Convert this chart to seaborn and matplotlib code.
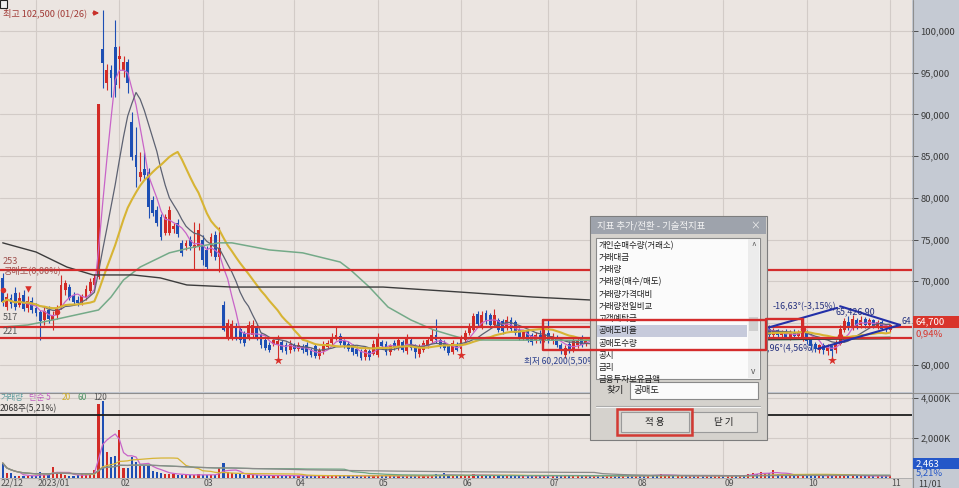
import numpy as np
import pandas as pd
import seaborn as sns
import matplotlib.pyplot as plt
from matplotlib.patches import Rectangle
from matplotlib.transforms import blended_transform_factory

# daily candles 2022/12 (partial) ~ 2023/11/01, won
opens = [
    70400, 66900, 68000, 68600, 67200, 68300, 66800, 67600,
    66800, 66300, 65300, 66500, 65400, 65900, 66900, 68900, 69300, 68200, 67800, 67500, 68000, 68800, 69600, 70500, 97900, 93800, 95300, 98100,
    96700, 95200, 96300, 89100, 85100, 82500, 83500, 83100, 79700, 78500, 77700, 75800, 75800, 76200, 77000, 74600, 74200, 75000, 74000, 74100,
    74900, 73700, 73400, 75500, 72900, 67100, 63300, 63200, 64600, 64300, 63800, 63300, 63500, 64600, 63500, 62900, 62400, 62500, 62300, 62700, 62400, 61700,
    62300, 61900, 62200, 62400, 61800, 62200, 61000, 61600, 62100, 62600, 63200, 63400, 62800, 62500, 62200, 61900, 61600, 60900, 61600, 61300,
    61200, 62700, 62500, 61500, 62600, 62100, 62700, 61600, 62900, 62200, 61300, 61800, 62300, 62800, 63500, 63000, 62600, 62300, 61500, 62400,
    61900, 63000, 63800, 64200, 66100, 64600, 66200, 65900, 64800, 65300, 65200, 64400, 65400, 65100, 64100, 63200, 64000, 63500, 62900, 63500, 62900,
    63800, 62800, 63200, 62300, 61100, 62500, 61800, 62300, 63100, 62500, 63000, 62700, 63300, 62600, 62100, 62800, 63500, 63100, 62500, 62900, 62300,
    61800, 62400, 61900, 61300, 61700, 61100, 60600, 61200, 61800, 62300, 62000, 62700, 63300, 62900, 63500, 63100, 63700, 63200, 63600, 63100, 63500,
    63900, 63400, 63800, 64200, 63700, 64100, 63600, 64000, 64400, 63900, 64300, 64300, 63600, 64100, 63600, 64000, 63300, 63900, 63400, 63300,
    63900, 62900, 62500, 61700, 62300, 61600, 62200, 61700, 62500, 64100, 65100, 64400, 65300, 64700, 65500, 64800, 65300, 64600, 65100, 64300, 64100,
]
closes = [
    67500, 68100, 67300, 66900, 68000, 66700, 67600, 66600,
    66200, 65200, 66400, 65500, 66000, 66800, 69600, 69800, 68000, 67500, 67400, 68200, 69100, 69900, 70400, 91200, 96200, 95300, 94400, 93500,
    97000, 96300, 93800, 84900, 83700, 83100, 82700, 78900, 78200, 77000, 75300, 77700, 78500, 76600, 75700, 73400, 74600, 74200, 74400, 76100,
    72500, 71700, 75300, 72900, 74000, 64200, 65000, 64900, 63300, 62900, 62600, 64800, 64800, 63300, 62400, 62000, 61800, 62900, 62800, 61800, 61600, 62500,
    61900, 62400, 61700, 61500, 61100, 61000, 61700, 62400, 62600, 63300, 63600, 62600, 62300, 61900, 61500, 61300, 60800, 61800, 60900, 62500,
    63200, 62200, 61500, 62200, 62000, 62900, 61800, 63300, 62000, 61500, 62100, 62600, 62900, 63500, 62900, 62300, 62000, 61400, 62600, 61800,
    63200, 63800, 64400, 65800, 64900, 66000, 65200, 64700, 66000, 64200, 64000, 65400, 64300, 63800, 63300, 63900, 63000, 62700, 63600, 62900, 63600,
    62900, 63400, 62400, 61700, 62000, 61700, 62900, 62900, 62400, 63000, 62700, 63300, 62600, 62100, 62800, 63500, 63100, 62500, 62900, 62300, 61800,
    62400, 61900, 61300, 61700, 61100, 60600, 61200, 61800, 62300, 62000, 62700, 63300, 62900, 63500, 63100, 63700, 63200, 63600, 63100, 63500, 63900,
    63400, 63800, 64200, 63700, 64100, 63600, 64000, 64400, 63900, 64300, 64500, 63600, 64000, 63500, 64000, 63300, 63800, 63400, 63900, 65300,
    62800, 62200, 61900, 62300, 61700, 62200, 61600, 62500, 64300, 65200, 64500, 65500, 64600, 65400, 64700, 65300, 64600, 65100, 64300, 64100, 64700,
]
highs = [
    71000, 68600, 68500, 69300, 68700, 69000, 68200, 68100,
    67400, 66600, 66900, 67000, 66400, 67200, 70800, 70200, 69700, 68700, 68200, 68500, 69500, 70400, 70900, 91200, 102500, 96000, 95900, 101300,
    98200, 97000, 96600, 90300, 88500, 85500, 85500, 83600, 80200, 79000, 78000, 78100, 79000, 77000, 77500, 75000, 75000, 75400, 77100, 77000,
    75500, 74200, 75800, 76000, 76500, 67600, 65500, 65300, 65000, 64600, 64000, 65200, 65300, 64900, 63800, 63200, 62700, 63100, 63600, 63000, 62700, 62900,
    62600, 62700, 62500, 62700, 62000, 62500, 62000, 62800, 62900, 63800, 64500, 63800, 63100, 62800, 62500, 62200, 61900, 62200, 61900, 62900,
    63800, 63000, 62800, 62500, 62900, 63200, 63000, 63700, 63200, 62500, 62500, 63000, 63200, 64300, 65500, 63300, 62900, 62500, 62900, 62700,
    63500, 64200, 65000, 66200, 66400, 66400, 66500, 66200, 66700, 65600, 65500, 65800, 65700, 65400, 64400, 64200, 64300, 63800, 63900, 64100, 64300,
    65300, 63800, 63500, 62600, 62300, 62800, 63200, 63200, 63600, 63300, 63400, 63600, 63500, 62900, 63100, 63900, 63800, 63300, 63200, 63100, 62500,
    62700, 62600, 62100, 62000, 61900, 61300, 61500, 62000, 62600, 62600, 63000, 63600, 63500, 63800, 63800, 64000, 63900, 63900, 63800, 63800, 64200,
    64100, 64100, 64500, 64400, 64400, 64300, 64300, 64700, 64600, 64600, 64900, 64700, 64400, 64300, 64200, 64300, 64100, 64300, 64200, 65600,
    64200, 63200, 62700, 62500, 62600, 62500, 62400, 62900, 64800, 65600, 65800, 65900, 65600, 65800, 65700, 65600, 65500, 65300, 65300, 64800, 64900,
]
lows = [
    67000, 66500, 66800, 66600, 66900, 66400, 66300, 66200,
    65800, 63000, 64800, 65000, 64200, 65500, 66700, 68300, 67700, 67100, 67000, 67200, 67800, 68500, 69300, 70300, 93200, 92900, 92100, 92100,
    93200, 94500, 92600, 84500, 81300, 82000, 82300, 77600, 77800, 76600, 75000, 75500, 75500, 75800, 75300, 73000, 73800, 73800, 71300, 73800,
    72000, 71300, 73000, 72500, 71100, 64000, 63000, 62900, 63000, 62600, 62200, 63000, 63200, 63000, 62000, 61700, 61500, 62200, 60700, 61500, 61300, 61400,
    61600, 61600, 61400, 61200, 60900, 60800, 60700, 61300, 61900, 62400, 62900, 62300, 62000, 61600, 61200, 61000, 60500, 60600, 60600, 61100,
    60900, 61900, 61200, 61200, 61700, 61800, 61500, 61300, 61700, 60800, 60900, 61500, 62000, 62600, 62600, 62000, 61700, 61200, 61300, 61600,
    61300, 62700, 63500, 64000, 64600, 64300, 64900, 64400, 64500, 63900, 63700, 64100, 64000, 63500, 63000, 62900, 62700, 62400, 62600, 62600, 62700,
    62600, 62500, 62100, 61300, 60800, 61400, 61500, 62000, 62100, 62200, 62400, 62400, 62300, 61800, 61800, 62500, 62800, 62200, 62200, 62000, 61500,
    61500, 61600, 61000, 61000, 60800, 60300, 60200, 60900, 61500, 61700, 61800, 62400, 62600, 62700, 62800, 62900, 62900, 63000, 62800, 62900, 63200,
    63100, 63200, 63500, 63400, 63500, 63300, 63400, 63700, 63600, 63600, 64000, 63300, 63300, 63200, 63300, 63100, 63000, 63100, 63100, 62800,
    62500, 61800, 61500, 61400, 61300, 61200, 60700, 61400, 62300, 63900, 64200, 64100, 64300, 64400, 64400, 64500, 64400, 64300, 64100, 63900, 63900,
]
# volume, thousand shares
volumes = [
    750, 250, 230, 120, 110, 100, 120, 110,
    110, 280, 150, 130, 550, 300, 260, 150, 120, 110, 130, 180, 200, 230, 400, 3700, 3850, 1300, 1050, 1100,
    2400, 500, 500, 1050, 800, 600, 600, 600, 350, 300, 250, 220, 200, 180, 170, 160, 150, 140, 160, 180,
    150, 140, 160, 150, 500, 750, 300, 250, 200, 180, 160, 150, 140, 130, 120, 130, 120, 110, 150, 120, 110, 100,
    110, 100, 120, 110, 100, 130, 120, 110, 100, 120, 150, 110, 100, 110, 90, 100, 120, 110, 100, 130,
    150, 110, 100, 90, 110, 120, 100, 130, 110, 100, 120, 110, 100, 130, 180, 120, 250, 110, 100, 120,
    140, 150, 130, 180, 160, 140, 130, 120, 150, 130, 120, 110, 130, 120, 110, 100, 110, 120, 100, 110, 100,
    120, 110, 100, 130, 150, 120, 110, 100, 90, 110, 100, 100, 110, 90, 100, 110, 100, 90, 100, 110, 100,
    110, 100, 120, 130, 150, 160, 180, 140, 120, 110, 100, 110, 100, 90, 100, 110, 100, 90, 100, 110, 100,
    100, 90, 110, 100, 120, 150, 200, 250, 220, 300, 180, 250, 400, 220, 180, 150, 130, 120, 110, 200,
    150, 130, 120, 110, 100, 120, 140, 160, 180, 150, 130, 120, 110, 100, 110, 100, 90, 100, 110, 100, 120,
]

month_starts = [0, 8, 28, 48, 70, 90, 110, 131, 152, 173, 193, 213]
month_labels = ["22/12", "2023/01", "02", "03", "04", "05", "06", "07", "08", "09", "10", "11"]

# 60 / 120 day averages (their history starts before 22/12)
ma60_days = [0, 6, 12, 23, 26, 29, 33, 40, 45, 52, 55, 64, 72, 81, 83.5, 88, 92.5, 98, 103.5, 107.5, 110, 115, 150, 190, 213]
ma60_vals = [64500, 64750, 65350, 66550, 68100, 70150, 71700, 73400, 74000, 74600, 74600, 73750, 73400, 72300, 71350,
             69300, 66900, 65350, 64150, 63550, 63200, 62950, 62900, 63000, 63300]
ma120_days = [0, 8, 15.4, 21.7, 31.3, 37.8, 44.2, 55, 91.3, 109.8, 127.3, 141, 160, 183, 213]
ma120_vals = [74600, 73500, 71700, 70750, 70750, 70400, 69550, 69300, 69300, 68700, 68100, 67750, 65000, 63000, 63100]

# user-drawn lines
hline_prices = [71300, 64550, 63200]
trend_days = [[183.5, 200.3], [201.0, 215.4], [195.7, 215.4]]
trend_vals = [[64400, 66800], [67000, 64750], [61900, 64750]]
star_days = [66, 110, 199]
dot_days = [0, 13, 192, 201]

dialog_items = ["개인순매수량(거래소)", "거래대금", "거래량", "거래량(매수/매도)", "거래량가격대비",
                "거래량전일비교", "고객예탁금", "공매도비율", "공매도수량", "공시", "금리", "금융투자보유금액"]

sns.set_theme(style="white")
plt.rcParams["font.family"] = ["Noto Sans CJK KR", "DejaVu Sans"]

RED = "#d22b26"
BLUE = "#1d4fb4"
BG = "#ebe5e1"
GRID = "#d2cbc7"
W, H = 959, 488


def frac(x0, y0, x1, y1):
    return [x0 / W, 1 - y1 / H, (x1 - x0) / W, (y1 - y0) / H]


fig = plt.figure(figsize=(9.59, 4.88), dpi=100, facecolor="#c5cad3")
ax = fig.add_axes(frac(0, 0, 912, 392))
ax2 = fig.add_axes(frac(0, 393, 912, 478))
fig.add_artist(Rectangle((0, 0), 912 / W, 10 / H, transform=fig.transFigure,
                         fc="#dbd7d4", ec="none", zorder=-1))

x = np.arange(len(closes))
o, c, h, l = map(np.array, (opens, closes, highs, lows))
col = np.where(c >= o, RED, BLUE)

# candles
ax.vlines(x, l, h, colors=col, lw=0.8, zorder=3)
ax.bar(x, np.maximum(np.abs(c - o), 90), bottom=np.minimum(o, c), width=0.7,
       color=col, linewidth=0, zorder=4)

close_s = pd.Series(c, dtype=float)
for win, colr, lw in [(5, "#c864c8", 0.9), (10, "#5d6272", 0.9), (20, "#d7b434", 1.5)]:
    sns.lineplot(x=x, y=close_s.rolling(win, min_periods=1).mean().values, ax=ax,
                 color=colr, linewidth=lw, estimator=None, legend=False, zorder=5)
sns.lineplot(x=ma60_days, y=ma60_vals, ax=ax, color="#74aa88", linewidth=1.1,
             estimator=None, legend=False, zorder=5)
sns.lineplot(x=ma120_days, y=ma120_vals, ax=ax, color="#3c3c3c", linewidth=1.0,
             estimator=None, legend=False, zorder=5)

for p in hline_prices:
    ax.axhline(p, color="#d42c2c", lw=1.6, zorder=6)

for dd, vv in zip(trend_days, trend_vals):
    ax.plot(dd, vv, color="#2330a8", lw=1.5, zorder=8)

ax.scatter(star_days, l[star_days] - 200, marker="*", s=45, color="#d9302a", zorder=9, linewidths=0)
ax.scatter(dot_days, (o[dot_days] + c[dot_days]) / 2, marker="o", s=16, color="#d9302a", zorder=9, linewidths=0)
ax.scatter([6], [h[6] + 900], marker="v", s=22, color="#d9302a", zorder=9, linewidths=0)

# volume pane
ax2.bar(x, volumes, width=0.5, color=col, linewidth=0, zorder=3)
vol_s = pd.Series(volumes, dtype=float)
for win, colr in [(5, "#c864c8"), (20, "#d7b434"), (60, "#6fa784"), (120, "#8a8a8a")]:
    sns.lineplot(x=x, y=vol_s.rolling(win, min_periods=1).mean().values, ax=ax2,
                 color=colr, linewidth=0.9, estimator=None, legend=False, zorder=4)
ax2.axhline(3150, color="#1e1e1e", lw=1.3, zorder=5)

for a in (ax, ax2):
    a.set_facecolor(BG)
    a.set_xlim(-0.65, 912 / 4.166 - 0.65)
    a.set_xticks(month_starts[1:])
    a.tick_params(axis="x", length=0, labelbottom=False)
    a.yaxis.tick_right()
    a.tick_params(axis="y", labelsize=6.8, colors="#3a3a3a", length=4, width=0.6, pad=2)
    a.grid(True, color=GRID, lw=0.8)
    a.set_axisbelow(True)
    a.set_xlabel("")
    a.set_ylabel("")
    for s in a.spines.values():
        s.set_visible(False)

ax.set_ylim(56716, 103717)
ticks = list(range(60000, 100001, 5000))
ax.set_yticks(ticks)
ax.set_yticklabels([f"{v:,}" for v in ticks])
ax2.set_ylim(0, 4250)
ax2.set_yticks([2000, 4000])
ax2.set_yticklabels(["2,000K", "4,000K"])

tr = blended_transform_factory(ax2.transData, ax2.transAxes)
for d, lab in zip(month_starts, month_labels):
    ax2.text(d + 0.3 if d else -0.4, -0.06, lab, transform=tr, fontsize=6.3,
             color="#505050", va="center", ha="left", clip_on=False)

# overlay in pixel coordinates
ov = fig.add_axes([0, 0, 1, 1])
ov.set_zorder(10)
ov.set_xlim(0, W)
ov.set_ylim(H, 0)
ov.axis("off")
ov.patch.set_visible(False)


def box(x0, y0, x1, y1, fc, ec="none", lw=0.8, z=20):
    r = Rectangle((x0, y0), x1 - x0, y1 - y0, fc=fc, ec=ec, lw=lw, zorder=z)
    ov.add_patch(r)
    return r


ov.plot([0, W], [392.5, 392.5], color="#8e8e8e", lw=0.8, zorder=2)
ov.plot([912.5, 912.5], [0, H], color="#8e8e8e", lw=0.8, zorder=2)
ov.plot([0, 912], [478, 478], color="#a8a8a8", lw=0.6, zorder=2)
box(0, 0, 7, 8, "#f0f0f0", "#222222", z=30)

# chart notes
ov.text(3, 13, "최고 102,500 (01/26)", color="#a13a36", fontsize=6.6, va="center", zorder=3)
ov.annotate("", xy=(102, 13), xytext=(90, 13), zorder=3,
            arrowprops=dict(arrowstyle="-|>", color="#c8302a", lw=1, mutation_scale=7))
ov.text(3, 262, "253", color="#a0524e", fontsize=6.6, va="center", zorder=3)
ov.text(4, 270, "공매도(0,00%)", color="#a0524e", fontsize=6.6, va="center", zorder=3)
ov.text(3, 318, "517", color="#555555", fontsize=6.6, va="center", zorder=3)
ov.text(3, 331, "221", color="#555555", fontsize=6.6, va="center", zorder=3)
ov.text(524, 362, "최저 60,200(5,50%)", color="#2b3f8c", fontsize=6.2, va="center", zorder=3)
ov.text(773, 307, "-16,63°(-3,15%)", color="#24307e", fontsize=6.4, va="center", zorder=3)
ov.text(836, 312, "65,426.90", color="#24307e", fontsize=6.4, va="center", zorder=3)
ov.text(760, 349, "-4,96°(4,56%)", color="#24307e", fontsize=6.4, va="center", zorder=3)
ov.text(901, 322, "64", color="#24307e", fontsize=6, va="center", zorder=3)

# volume legend
for xp, txt, cl in [(1, "거래량", "#5f9ea0"), (29, "단순 5", "#c060c0"), (62, "20", "#cfae2c"),
                    (77, "60", "#4f9566"), (93, "120", "#555555")]:
    ov.text(xp, 397.5, txt, color=cl, fontsize=6, va="center", zorder=3)
ov.text(0, 408.5, "2068주(5,21%)", color="#333333", fontsize=6.2, va="center", zorder=3)

# right side value tags
box(913, 316, 959, 328, "#d9342b", z=30)
ov.text(916, 322, "64,700", color="white", fontsize=6.8, va="center", zorder=31)
ov.text(916, 334, "0,94%", color="#d9342b", fontsize=6.8, va="center", zorder=31)
box(913, 458, 959, 469, "#2457c8", z=30)
ov.text(916, 463.5, "2,463", color="white", fontsize=6.8, va="center", zorder=31)
ov.text(916, 473, "5,21%", color="#2457c8", fontsize=6.8, va="center", zorder=31)
ov.text(918, 484, "11/01", color="#3a3a3a", fontsize=6.4, va="center", zorder=31)

# indicator dialog
box(590, 216, 767, 440, "#d5d2cd", "#7d7d7d")
box(591, 217, 766, 234, "#9ea3ac", z=21)
ov.text(597, 225.5, "지표 추가/전환 - 기술적지표", color="#f4f4f4", fontsize=6.8, va="center", zorder=22)
ov.text(755, 225.5, "×", color="#eeeeee", fontsize=7, va="center", ha="center", zorder=22)
listbox = box(596, 238, 760, 379, "#fbfbfb", "#8a8a8a", z=21)
box(597, 325, 747, 337, "#c6cadb", z=22)
for k, item in enumerate(dialog_items):
    t = ov.text(599, 245.5 + k * 12.2, item, color="#1e1e1e", fontsize=6.1, va="center", zorder=23)
    t.set_clip_path(listbox)
box(748, 239, 759, 378, "#ececec", z=22)
box(749, 317, 758, 331, "#cfcfcf", z=23)
ov.text(753.5, 246, "^", color="#555555", fontsize=6, ha="center", va="center", zorder=23)
ov.text(753.5, 371, "v", color="#555555", fontsize=6, ha="center", va="center", zorder=23)
ov.text(607, 390.5, "찾기", color="#1e1e1e", fontsize=6.8, va="center", zorder=22)
box(630, 382, 758, 399, "#fbfbfb", "#8a8a8a", z=21)
ov.text(634, 390.5, "공매도", color="#1e1e1e", fontsize=6.8, va="center", zorder=22)
ov.plot([596, 760], [406, 406], color="#a8a8a8", lw=0.8, zorder=21)
ov.plot([596, 760], [407, 407], color="#f4f4f4", lw=0.8, zorder=21)
box(621, 412, 689, 432, "#e3e0dc", "#9a9a9a", z=21)
ov.text(655, 422, "적 용", color="#1e1e1e", fontsize=6.8, ha="center", va="center", zorder=22)
box(691, 412, 757, 432, "#e3e0dc", "#9a9a9a", z=21)
ov.text(724, 422, "닫 기", color="#1e1e1e", fontsize=6.8, ha="center", va="center", zorder=22)
box(617, 409, 692, 435, "none", "#d33a33", lw=1.8, z=24)

# user boxes drawn over everything
ov.plot([543, 766, 766, 543, 543], [320, 320, 350, 350, 320], color="#d42c2c", lw=1.7, zorder=25)
ov.plot([766, 803, 803], [319, 319, 338], color="#d42c2c", lw=1.7, zorder=25)

fig.savefig("out.png", dpi=100, facecolor=fig.get_facecolor())
